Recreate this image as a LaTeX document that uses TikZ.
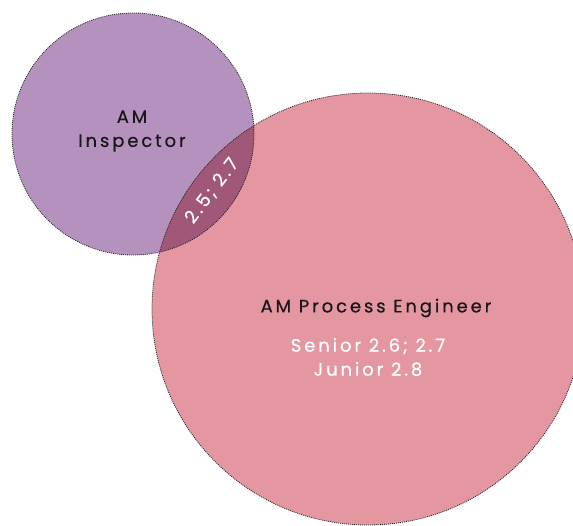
\documentclass[tikz,border=0pt]{standalone}
\usepackage{fontspec}
\setmainfont{Poppins}[LetterSpace=16, FakeBold=0.5]
\usepackage{tikz}
\definecolor{inspfill}{RGB}{181,146,190}
\definecolor{engfill}{RGB}{229,151,161}
\definecolor{lensfill}{RGB}{160,87,120}
\definecolor{darktext}{RGB}{26,22,26}
\tikzstyle{venn} = [circle, inner sep=0pt]
\tikzstyle{ring} = [draw=black!85, line width=0.8pt, dash pattern=on 1pt off 1pt]
\tikzstyle{title} = [align=center, text=darktext, font=\fontsize{18}{24}\selectfont]
\tikzstyle{grade} = [align=center, text=white, font=\fontsize{18}{24}\selectfont]

\begin{document}
\begin{tikzpicture}[x=1pt, y=-1pt]
            \useasboundingbox (0,0) rectangle (573,526);
            \clip (0,0) rectangle (573,526);
            \node [venn, fill=inspfill, minimum size=242pt] (insp) at (133,134) {};
            \node [venn, fill=engfill, minimum size=432pt] (eng) at (368,309) {};
            % overlap
            \begin{scope}
                \clip (insp.center) circle (121pt);
                \fill [lensfill] (eng.center) circle (216pt);
            \end{scope}
            \draw [ring] (insp.center) circle (121pt);
            \draw [ring] (eng.center) circle (216pt);

            \node [title] (insptext) at (132,131) {AM\\Inspector};
            \node [title] (engtext) at (376,308) {AM Process Engineer};
            \node [grade] (engsub) at (368,357) {Senior 2.6; 2.7\\Junior 2.8};
            \node [grade, rotate=53] (both) at (212,191) {2.5; 2.7};
        \end{tikzpicture}
\end{document}
